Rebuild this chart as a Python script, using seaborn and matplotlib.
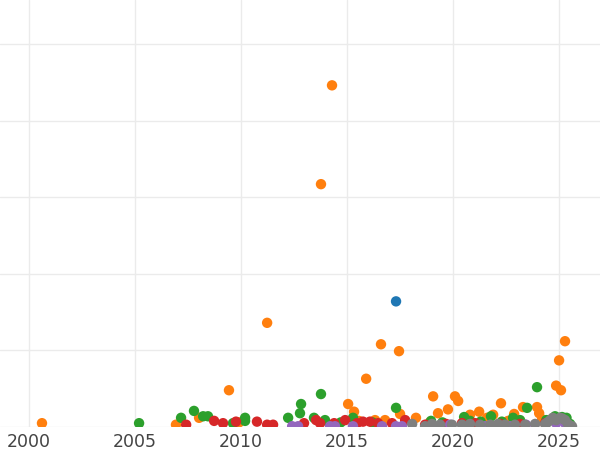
import pandas as pd
import numpy as np
from matplotlib import pyplot as plt
import seaborn as sns

groups = ['A', 'B', 'C', 'D', 'E', 'F']
palette = ['#1f77b4', '#ff7f0e', '#2ca02c', '#d62728', '#9467bd', '#7f7f7f']

a_year = [2017.31]
a_val = [164]

b_year = [2000.61, 2014.29, 2013.77, 2011.23, 2009.43, 2016.60, 2017.45, 2015.90, 2015.05, 2015.33,
          2025.28, 2025.00, 2024.86, 2025.09, 2019.06, 2020.09, 2020.24, 2019.29, 2019.76, 2021.23,
          2020.80, 2017.50, 2018.25, 2022.26, 2023.30, 2023.96, 2024.06, 2021.89, 2006.93, 2008.02,
          2016.32, 2016.79, 2022.88, 2021.60, 2009.90, 2015.55, 2018.90, 2020.55, 2022.60, 2024.20]
b_val = [5, 446, 317, 136, 48, 108, 99, 63, 30, 20,
         112, 87, 54, 48, 40, 40, 34, 18, 23, 20,
         16, 17, 12, 31, 26, 26, 18, 16, 3, 12,
         9, 9, 17, 12, 6, 8, 6, 7, 8, 10]

c_year = [2005.19, 2007.17, 2007.78, 2008.21, 2008.44, 2010.19, 2010.19, 2009.62, 2012.22, 2012.83,
          2012.78, 2013.77, 2013.44, 2013.96, 2015.28, 2017.31, 2023.96, 2023.49, 2020.52, 2021.79,
          2022.83, 2018.96, 2024.81, 2025.14, 2025.52, 2020.80, 2023.16, 2014.70, 2016.20, 2019.50,
          2021.30, 2022.30, 2024.40, 2025.35]
c_val = [5, 12, 21, 14, 14, 12, 8, 5, 12, 30,
         18, 43, 12, 9, 12, 25, 52, 25, 13, 14,
         12, 8, 14, 13, 4, 8, 9, 6, 6, 6,
         7, 7, 9, 12]

d_year = [2007.41, 2008.73, 2009.15, 2009.76, 2010.75, 2011.23, 2011.51, 2012.97, 2013.54, 2013.73,
          2014.39, 2014.91, 2015.47, 2015.75, 2016.08, 2016.46, 2017.12, 2017.74, 2018.68, 2019.67,
          2020.42, 2021.04, 2022.22, 2023.16, 2024.34]
d_val = [3, 8, 5, 7, 7, 3, 3, 5, 9, 5,
         5, 9, 5, 7, 7, 5, 5, 9, 3, 4,
         5, 5, 4, 4, 5]

e_year = [2012.41, 2012.69, 2014.20, 2014.43, 2015.28, 2016.65, 2017.31, 2017.59, 2019.86, 2021.51,
          2022.69, 2023.44, 2024.86, 2025.28]
e_val = [1, 1, 1, 1, 1, 1, 1, 1, 3, 1,
         1, 3, 5, 5]

f_year = [2018.07, 2018.68, 2019.01, 2019.39, 2019.95, 2020.42, 2020.80, 2021.27, 2021.75, 2022.12,
          2022.45, 2022.92, 2023.40, 2023.87, 2024.34, 2024.58, 2024.86, 2025.05, 2025.28, 2025.42,
          2025.61, 2024.70, 2025.15, 2024.45]
f_val = [4, 1, 4, 3, 3, 3, 4, 3, 3, 4,
         3, 3, 3, 4, 4, 9, 9, 12, 9, 4,
         1, 12, 11, 6]

years = [a_year, b_year, c_year, d_year, e_year, f_year]
vals = [a_val, b_val, c_val, d_val, e_val, f_val]

df = pd.concat([pd.DataFrame({'year': y, 'value': v, 'group': g})
                for g, y, v in zip(groups, years, vals)], ignore_index=True)

sns.set_style('whitegrid', {'grid.color': '#ebebeb'})
fig = plt.figure(figsize=(6, 4.5), dpi=100)
ax = fig.add_axes([0, 0.0511, 1, 0.9489])
sns.scatterplot(data=df, x='year', y='value', hue='group', hue_order=groups,
                palette=palette, s=56, linewidth=0,
                legend=False, ax=ax)

ax.set_xlim(1998.63, 2026.93)
ax.set_ylim(0, 557.4)
ax.set_xticks(range(2000, 2026, 5))
ax.set_yticks(range(0, 501, 100))
ax.set_yticklabels([])
ax.set_xlabel('')
ax.set_ylabel('')
ax.tick_params(axis='x', length=0, pad=4, labelsize=12.5, colors='#444444')
ax.tick_params(axis='y', length=0)
ax.grid(True, linewidth=1)
for s in ax.spines.values():
    s.set_visible(False)

fig.savefig('out.png', dpi=100)
